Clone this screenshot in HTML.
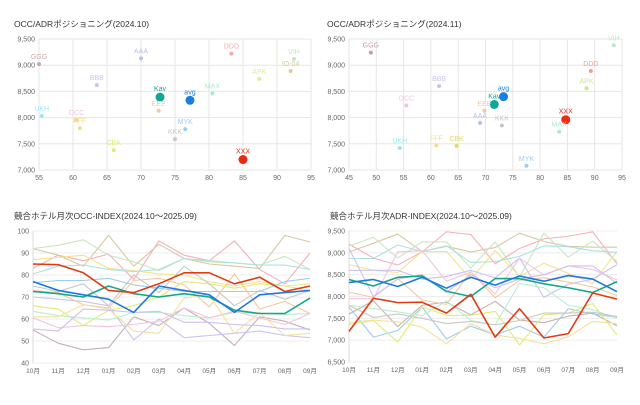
<!DOCTYPE html><html><head><meta charset="utf-8"><style>
body{margin:0;background:#fff;width:640px;height:400px;overflow:hidden}
svg{font-family:"Liberation Sans","Noto Sans CJK JP",sans-serif}
</style></head><body>
<svg id="s" width="640" height="400" xmlns="http://www.w3.org/2000/svg"></svg>
<script>
var s=document.getElementById('s'),h='';
function t(x,y,str,sz,col,anc,w){h+='<text x="'+x+'" y="'+y+'" font-size="'+sz+'" fill="'+col+'" text-anchor="'+(anc||'start')+'"'+(w?' font-weight="'+w+'"':'')+'>'+str+'</text>';}
function l(x1,y1,x2,y2,c,w){h+='<line x1="'+x1+'" y1="'+y1+'" x2="'+x2+'" y2="'+y2+'" stroke="'+c+'" stroke-width="'+(w||1)+'"/>';}
function fmt(v){return v>=1000?Math.floor(v/1000)+','+String(v%1000).padStart(3,'0'):v;}
function scatter(ox,x0,x1,xs,pts,title){
 var L=ox,R=ox===39?311:622,T=39,B=170;
 t(14+(ox===39?0:320-14+7),27,title,8.5,'#333');
 var X=function(v){return L+(v-x0)/(x1-x0)*(R-L)},Y=function(v){return B-(v-7000)/2500*(B-T)};
 for(var v=7000;v<=9500;v+=500){l(L,Y(v),R,Y(v),'#e6e6e6');t(L-4,Y(v)+2.5,fmt(v),7,'#666','end');}
 for(var v=x0;v<=x1;v+=xs){l(X(v),T,X(v),B,'#e6e6e6');t(X(v),B+10,v,7,'#666','middle');}
 pts.forEach(function(p){var big=p[4];var x=X(p[1]),y=Y(p[2]);
  h+='<circle cx="'+x+'" cy="'+y+'" r="'+(big?4.5:2)+'" fill="'+p[3]+'"/>';
  t(x,y-(big?6:5),p[0],7,p[3],'middle');});
}
scatter(39,55,95,5,[['GGG',55,9020,'#c9a9a9'],['AAA',70,9130,'#b8bff0'],['DDD',83.3,9220,'#f4a9b0'],['VIH',92.5,9120,'#b9ebc9'],['IO-04',92,8890,'#d8cc99'],['APK',87.4,8740,'#dbed9a'],['BBB',63.5,8620,'#c9c3ef'],['MAX',80.5,8460,'#a9e9d9'],['Kav',72.8,8390,'#12a592',1],['avg',77.2,8330,'#1a7fe0',1],['EEE',72.6,8130,'#f5c99a'],['UKH',55.4,8030,'#9fe3ee'],['OCC',60.5,7950,'#f2c4df'],['FFF',61,7800,'#f3dd8a'],['MYK',76.5,7780,'#9ccdf2'],['KKK',75,7590,'#c8c8c8'],['CBK',66,7380,'#e3ea77'],['XXX',85,7200,'#ee2a10',1]],'OCC/ADRポジショニング(2024.10)');
scatter(349,45,95,5,[['GGG',49,9240,'#c9a0a0'],['VIH',93.5,9380,'#b9ebc9'],['DDD',89.3,8890,'#f0a090'],['APK',88.5,8560,'#c9e98a'],['BBB',61.5,8600,'#c9c3ef'],['avg',73.3,8400,'#1a7fe0',1],['Kav',71.6,8250,'#12a592',1],['OCC',55.5,8230,'#f2c4df'],['EEE',69.8,8130,'#f5c99a'],['AAA',69,7900,'#b8bff0'],['KKK',73,7850,'#c8c8c8'],['XXX',84.7,7960,'#ee2a10',1],['MAX',83.5,7730,'#a9e9d9'],['UKH',54.3,7420,'#9fe3ee'],['FFF',61,7470,'#f3dd8a'],['CBK',64.7,7460,'#e3d860'],['MYK',77.5,7080,'#9ccdf2']],'OCC/ADRポジショニング(2024.11)');
var M=['10月','11月','12月','01月','02月','03月','04月','05月','06月','07月','08月','09月'];
var cols=['#f4b0b8','#d8c8a0','#c9e6c2','#f3e38f','#a9e3e0','#c7b0b0','#c9c3ef','#9ccdf2','#f5c99a','#e3ea77','#b8eecc','#f2c4df','#c8c8c8','#f5e0a0','#d0c0ee'];
function lines(L,R,T,B,mn,mx,step,title,light,main,isAdr){
 t(L-19,T-12,title,8.5,'#333');
 var X=function(i){return L+i*(R-L)/11},Y=function(v){return B-(v-mn)/(mx-mn)*(B-T)};
 for(var v=mn;v<=mx;v+=step){l(L,Y(v),R,Y(v),'#ececec');t(L-4,Y(v)+2.5,isAdr?fmt(v):v,7,'#666','end');}
 l(L,T,L,B,'#ddd');
 M.forEach(function(m,i){t(X(i),B+10,m,6.5,'#666','middle');});
 function pl(d,c,w){h+='<polyline fill="none" stroke="'+c+'" stroke-width="'+w+'" stroke-linejoin="round" points="'+d.map(function(v,i){return X(i)+','+Y(v)}).join(' ')+'"/>';}
 light.forEach(function(d,i){pl(d,cols[i%cols.length],1.1);});
 main.forEach(function(m){pl(m[0],m[1],1.6);});
}
lines(33,310,231,363,40,100,10,'競合ホテル月次OCC-INDEX(2024.10～2025.09)',[
[83,89,86.5,89.5,78,95.5,89,86.5,95.5,82.5,76,90],
[92,89,84,98,84,94,87.5,85,84,83,98,95],
[92,93.5,96,89,86,82,87.5,86,85.5,84.5,88.5,82.5],
[87,88,89,83,82,80.5,80,77,75,77,75,76],
[80.5,84,84.5,82.5,81.5,82.5,87.5,86.5,85.5,84.5,84.5,82.5],
[55,49,46,47,61,57,65,58,48,61,59,55],
[70,69,68,66,50.5,60,51.5,52.5,53.5,54.5,52.5,51.5],
[76.5,77.5,77.5,78.5,75.5,74,72.5,72.5,72.5,72.5,77,78.5],
[73,72,66.5,65,77.5,78.5,75.5,65.5,80.5,64.5,68,62.5],
[66,64.5,57,64,66,70,77,76,74,76,75,73],
[63.5,61.5,60.5,59.5,63,63,61.5,60.5,63,62.5,62,62.5],
[60.5,56,57,56.5,57.5,59,65,60.5,63.5,60.5,57.5,62.5],
[75,72.5,76,66,80,72,84,76,66,73,69,73],
[61,61,66.5,64.5,54.5,53.5,69.5,71,53.5,63,52.5,53.5],
[55.5,54.5,64.5,64,63,63.5,58.5,58.5,57.5,57,55.5,55.5]
],[[[72.5,71.5,70,75,71.5,70,71.5,70,64,62.5,62.5,69.5],'#15a68c'],[[77,73,71,69,63,75,73,71,63,71,72,73],'#1f78e0'],[[85,84.7,81,73,72,76,81,81,76,79,72.5,75],'#e23a12']],false);
lines(349,617,231,362,6500,9500,500,'競合ホテル月次ADR-INDEX(2024.10～2025.09)',[
[9200,8880,8720,9020,9480,9420,8750,9100,9320,9380,9480,8750],
[9020,9220,9430,9030,9150,9020,9120,9450,9260,9150,9130,9130],
[9150,9360,8880,9250,9250,8650,9250,8450,9450,8900,9270,8800],
[8730,8600,8550,9030,9030,8400,9050,8460,8760,8530,8300,9030],
[8870,8870,9180,9030,9160,8780,8800,8920,9160,9140,9050,9010],
[7600,7900,7310,7800,7870,7580,7890,7460,7400,7550,7620,7330],
[8600,8600,8600,8400,8460,8600,8430,8880,7980,8280,8400,8730],
[7760,7070,7220,7760,7030,7320,7120,7320,7070,7720,7600,7520],
[8100,7980,8410,7920,7820,8570,7970,8370,8430,8330,8220,8020],
[7360,7450,6960,7760,7570,7570,7660,6890,7580,7620,7840,7120],
[7800,7720,7650,7560,7900,7450,7350,8300,8200,7800,7700,7500],
[7950,7950,9020,9050,8350,8560,8060,8880,8490,8700,8620,8380],
[7800,7520,7600,7500,7380,7430,7350,7450,7620,7620,7640,7540],
[7400,7460,7420,7300,6920,7380,7120,7040,6920,7080,7430,7380],
[9100,8000,8400,8500,8100,8500,8200,8400,8500,8700,8700,8300]
],[[[8390,8240,8440,8470,8120,8000,8410,8410,8290,8200,8090,8340],'#15a68c'],[[8320,8390,8230,8440,8190,8440,8260,8470,8350,8480,8400,8110],'#1f78e0'],[[7200,7960,7860,7870,7620,8050,7070,7720,7050,7150,8080,7940],'#e23a12']],true);
s.innerHTML=h;
</script></body></html>
